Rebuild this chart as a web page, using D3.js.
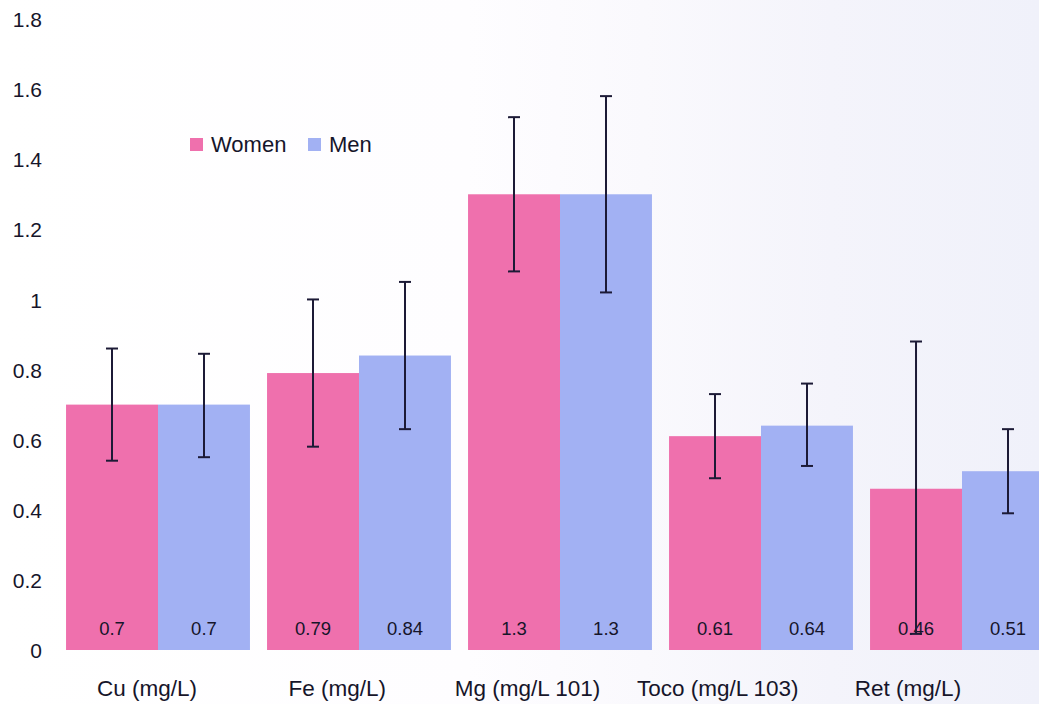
<!DOCTYPE html>
<html>
<head>
<meta charset="utf-8">
<script src="https://cdn.jsdelivr.net/npm/d3@7"></script>
<style>
  html, body { margin: 0; padding: 0; background: #ffffff; }
  svg { display: block; font-family: "Liberation Sans", Arial, sans-serif; }
</style>
</head>
<body>
<svg id="chart" width="1039" height="704"></svg>
<script>
const categories = ["Cu (mg/L)", "Fe (mg/L)", "Mg (mg/L 101)", "Toco (mg/L 103)", "Ret (mg/L)"];
const seriesNames = ["Women", "Men"];
const women = [0.70, 0.79, 1.30, 0.61, 0.46];
const men = [0.70, 0.84, 1.30, 0.64, 0.51];
const womenLabels = ["0.7", "0.79", "1.3", "0.61", "0.46"];
const menLabels = ["0.7", "0.84", "1.3", "0.64", "0.51"];
const womenErrLow = [0.54, 0.58, 1.08, 0.49, 0.046];
const womenErrHigh = [0.86, 1.00, 1.52, 0.73, 0.88];
const menErrLow = [0.55, 0.63, 1.02, 0.525, 0.39];
const menErrHigh = [0.845, 1.05, 1.58, 0.76, 0.63];
const yTicks = [0, 0.2, 0.4, 0.6, 0.8, 1, 1.2, 1.4, 1.6, 1.8];
const colors = ["#ef70ad", "#a2b1f3"];
const textColor = "#16152a";

const svg = d3.select("#chart");
const W = 1039, H = 704;

// background with faint bluish tint on the right
const defs = svg.append("defs");
const grad = defs.append("linearGradient").attr("id", "bg").attr("x1", 0).attr("x2", 1).attr("y1", 0).attr("y2", 0);
grad.append("stop").attr("offset", "0%").attr("stop-color", "#ffffff");
grad.append("stop").attr("offset", "45%").attr("stop-color", "#fefdff");
grad.append("stop").attr("offset", "62%").attr("stop-color", "#faf9fd");
grad.append("stop").attr("offset", "80%").attr("stop-color", "#f4f4fb");
grad.append("stop").attr("offset", "100%").attr("stop-color", "#f0f1fa");
svg.append("rect").attr("width", W).attr("height", H).attr("fill", "url(#bg)");

const y = d3.scaleLinear().domain([0, 1.8]).range([650, 19]);
const x0 = d3.scaleBand().domain(categories).range([57.5, 1062.5]).paddingInner(0.085).paddingOuter(0.0425);
const x1 = d3.scaleBand().domain(seriesNames).range([0, x0.bandwidth()]);
const xLabel = d3.scalePoint().domain(categories).range([147, 908]);

// y axis (labels only)
const yAxis = d3.axisLeft(y).tickValues(yTicks).tickFormat(d => d3.format("")(+d.toFixed(1))).tickSize(0).tickPadding(0);
const ya = svg.append("g").attr("transform", "translate(42,0)").call(yAxis);
ya.select(".domain").remove();
ya.selectAll("text").attr("font-size", 21).attr("fill", textColor).attr("font-family", "Liberation Sans, Arial, sans-serif").attr("dy", "0.36em");

const data = categories.map((c, i) => ({
  cat: c,
  vals: [
    { s: "Women", v: women[i], lab: womenLabels[i], lo: womenErrLow[i], hi: womenErrHigh[i] },
    { s: "Men", v: men[i], lab: menLabels[i], lo: menErrLow[i], hi: menErrHigh[i] }
  ]
}));

const groups = svg.append("g").selectAll("g").data(data).join("g")
  .attr("transform", d => `translate(${x0(d.cat)},0)`);

groups.selectAll("rect").data(d => d.vals).join("rect")
  .attr("x", d => x1(d.s))
  .attr("width", x1.bandwidth())
  .attr("y", d => y(d.v))
  .attr("height", d => y(0) - y(d.v))
  .attr("fill", (d, i) => colors[i]);

groups.selectAll("text.val").data(d => d.vals).join("text")
  .attr("class", "val")
  .attr("x", d => x1(d.s) + x1.bandwidth() / 2)
  .attr("y", 635)
  .attr("text-anchor", "middle")
  .attr("font-size", 18.5)
  .attr("fill", textColor)
  .text(d => d.lab);

// error bars
const eb = groups.selectAll("g.err").data(d => d.vals).join("g").attr("class", "err")
  .attr("stroke", "#1c1a36").attr("stroke-width", 2);
eb.append("line")
  .attr("x1", d => x1(d.s) + x1.bandwidth() / 2)
  .attr("x2", d => x1(d.s) + x1.bandwidth() / 2)
  .attr("y1", d => y(d.lo)).attr("y2", d => y(d.hi));
eb.append("line")
  .attr("x1", d => x1(d.s) + x1.bandwidth() / 2 - 6)
  .attr("x2", d => x1(d.s) + x1.bandwidth() / 2 + 6)
  .attr("y1", d => y(d.hi)).attr("y2", d => y(d.hi));
eb.append("line")
  .attr("x1", d => x1(d.s) + x1.bandwidth() / 2 - 6)
  .attr("x2", d => x1(d.s) + x1.bandwidth() / 2 + 6)
  .attr("y1", d => y(d.lo)).attr("y2", d => y(d.lo));

// x labels
svg.append("g").selectAll("text").data(categories).join("text")
  .attr("x", d => xLabel(d))
  .attr("y", 696)
  .attr("text-anchor", "middle")
  .attr("font-size", 22.5)
  .attr("fill", textColor)
  .text(d => d);

// legend
const legend = svg.append("g").attr("transform", "translate(190,138)");
const legX = [0, 118];
seriesNames.forEach((s, i) => {
  legend.append("rect").attr("x", legX[i]).attr("y", 0).attr("width", 13).attr("height", 13).attr("fill", colors[i]);
  legend.append("text").attr("x", legX[i] + 21).attr("y", 14).attr("font-size", 22).attr("fill", textColor).text(s);
});
</script>
</body>
</html>
